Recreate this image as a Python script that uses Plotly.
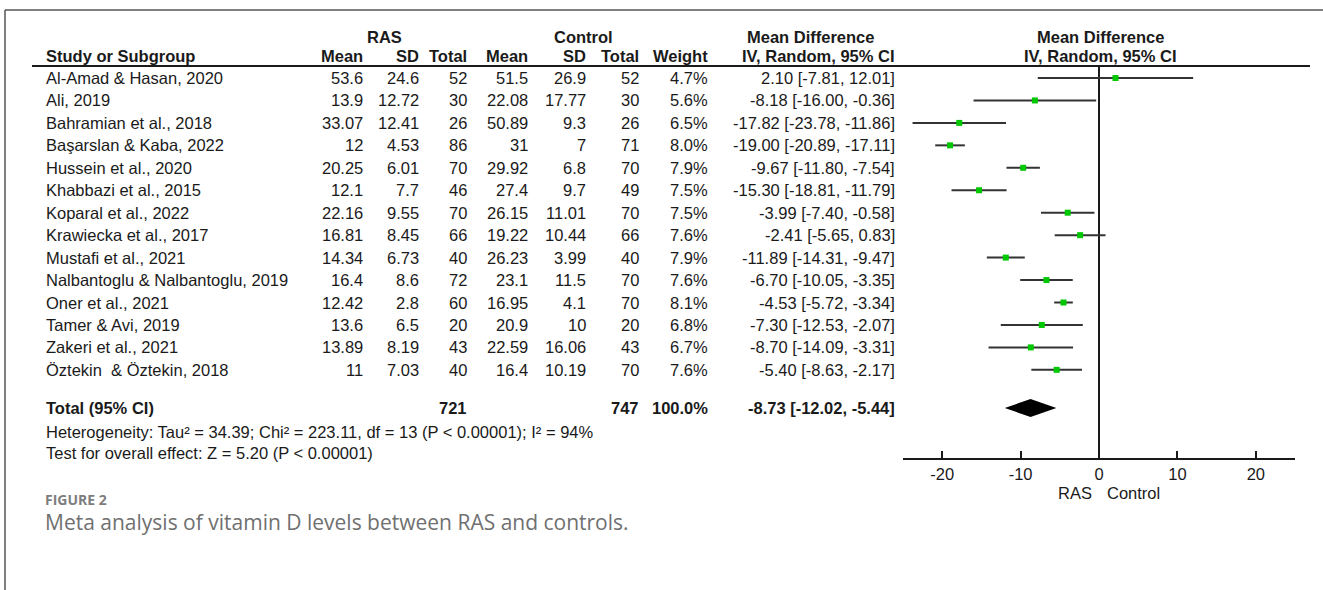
import plotly.graph_objects as go

# ---- study-level data -------------------------------------------------------
studies = [
    "Al-Amad & Hasan, 2020", "Ali, 2019", "Bahramian et al., 2018",
    "Başarslan & Kaba, 2022", "Hussein et al., 2020", "Khabbazi et al., 2015",
    "Koparal et al., 2022", "Krawiecka et al., 2017", "Mustafi et al., 2021",
    "Nalbantoglu & Nalbantoglu, 2019", "Oner et al., 2021", "Tamer & Avi, 2019",
    "Zakeri et al., 2021", "Öztekin  & Öztekin, 2018",
]
ras_mean = [53.6, 13.9, 33.07, 12, 20.25, 12.1, 22.16, 16.81, 14.34, 16.4, 12.42, 13.6, 13.89, 11]
ras_sd = [24.6, 12.72, 12.41, 4.53, 6.01, 7.7, 9.55, 8.45, 6.73, 8.6, 2.8, 6.5, 8.19, 7.03]
ras_n = [52, 30, 26, 86, 70, 46, 70, 66, 40, 72, 60, 20, 43, 40]
ctl_mean = [51.5, 22.08, 50.89, 31, 29.92, 27.4, 26.15, 19.22, 26.23, 23.1, 16.95, 20.9, 22.59, 16.4]
ctl_sd = [26.9, 17.77, 9.3, 7, 6.8, 9.7, 11.01, 10.44, 3.99, 11.5, 4.1, 10, 16.06, 10.19]
ctl_n = [52, 30, 26, 71, 70, 49, 70, 66, 40, 70, 70, 20, 43, 70]
weight = [4.7, 5.6, 6.5, 8.0, 7.9, 7.5, 7.5, 7.6, 7.9, 7.6, 8.1, 6.8, 6.7, 7.6]
md = [2.10, -8.18, -17.82, -19.00, -9.67, -15.30, -3.99, -2.41, -11.89, -6.70, -4.53, -7.30, -8.70, -5.40]
ci_lo = [-7.81, -16.00, -23.78, -20.89, -11.80, -18.81, -7.40, -5.65, -14.31, -10.05, -5.72, -12.53, -14.09, -8.63]
ci_hi = [12.01, -0.36, -11.86, -17.11, -7.54, -11.79, -0.58, 0.83, -9.47, -3.35, -3.34, -2.07, -3.31, -2.17]

# ---- pooled estimate ----------------------------------------------------------
total_ras_n = 721
total_ctl_n = 747
total_weight = 100.0
pooled_md = -8.73
pooled_lo = -12.02
pooled_hi = -5.44

heterogeneity = "Heterogeneity: Tau² = 34.39; Chi² = 223.11, df = 13 (P &lt; 0.00001); I² = 94%"
overall_test = "Test for overall effect: Z = 5.20 (P &lt; 0.00001)"

x_ticks = [-20, -10, 0, 10, 20]
x_tick_labels = ["-20", "-10", "0", "10", "20"]

# ---- page geometry (pixels) ---------------------------------------------------
W, H = 1323, 590
ROW_TOP, ROW_STEP = 78, 22.45
HDR1_Y, HDR2_Y, RULE_Y = 37, 56, 66
TOTAL_Y, HET_Y, TEST_Y = 408, 432, 453
AXIS_Y = 458
PLOT_X0, PLOT_X1 = 903, 1295
LABEL_X = 46
COL_RIGHT = [363, 419, 467, 528, 586, 639, 708, 895]

FONT = "Liberation Sans, Arial, sans-serif"
TXT = "#1a1a1a"
FS = 16.5


def px(x):
    return x / W


def py(y):
    return 1 - y / H


row_y = [ROW_TOP + i * ROW_STEP for i in range(len(studies))]

fig = go.Figure()

# confidence-interval whiskers
wx, wy = [], []
for lo, hi, y in zip(ci_lo, ci_hi, row_y):
    wx += [lo, hi, None]
    wy += [y, y, None]
fig.add_trace(go.Scatter(x=wx, y=wy, mode="lines",
                         line=dict(color="#333333", width=2),
                         hoverinfo="skip", showlegend=False))

# point estimates
fig.add_trace(go.Scatter(x=md, y=row_y, mode="markers",
                         marker=dict(symbol="square", size=6, color="#00c800",
                                     line=dict(width=0)),
                         showlegend=False))

# pooled diamond
half_h = 9
fig.add_trace(go.Scatter(
    x=[pooled_lo, pooled_md, pooled_hi, pooled_md, pooled_lo],
    y=[TOTAL_Y, TOTAL_Y - half_h, TOTAL_Y, TOTAL_Y + half_h, TOTAL_Y],
    mode="lines", fill="toself", fillcolor="#000000",
    line=dict(color="#000000", width=0), showlegend=False))

annotations = []


def add_text(text, x, y, anchor="right", bold=False, size=FS, color=TXT, family=FONT):
    if bold:
        text = f"<b>{text}</b>"
    annotations.append(dict(text=text, x=px(x), y=py(y), xref="paper", yref="paper",
                            xanchor=anchor, yanchor="middle", showarrow=False,
                            borderpad=0, borderwidth=0,
                            font=dict(family=family, size=size, color=color)))


def fmt(v):
    return f"{v:g}"


# header rows
add_text("RAS", 384, HDR1_Y, anchor="center", bold=True)
add_text("Control", 583, HDR1_Y, anchor="center", bold=True)
add_text("Mean Difference", 810, HDR1_Y, anchor="center", bold=True)
add_text("Mean Difference", 1100, HDR1_Y, anchor="center", bold=True)
add_text("IV, Random, 95% CI", 1100, HDR2_Y, anchor="center", bold=True)
add_text("Study or Subgroup", LABEL_X, HDR2_Y, anchor="left", bold=True)
for name, xr in zip(["Mean", "SD", "Total", "Mean", "SD", "Total", "Weight",
                     "IV, Random, 95% CI"], COL_RIGHT):
    add_text(name, xr, HDR2_Y, bold=True)

# study rows
for i, y in enumerate(row_y):
    add_text(studies[i], LABEL_X, y, anchor="left")
    cells = [fmt(ras_mean[i]), fmt(ras_sd[i]), str(ras_n[i]),
             fmt(ctl_mean[i]), fmt(ctl_sd[i]), str(ctl_n[i]),
             f"{weight[i]:.1f}%",
             f"{md[i]:.2f} [{ci_lo[i]:.2f}, {ci_hi[i]:.2f}]"]
    for c, xr in zip(cells, COL_RIGHT):
        add_text(c, xr, y)

# totals
add_text("Total (95% CI)", LABEL_X, TOTAL_Y, anchor="left", bold=True)
add_text(str(total_ras_n), COL_RIGHT[2], TOTAL_Y, bold=True)
add_text(str(total_ctl_n), COL_RIGHT[5], TOTAL_Y, bold=True)
add_text(f"{total_weight:.1f}%", COL_RIGHT[6], TOTAL_Y, bold=True)
add_text(f"{pooled_md:.2f} [{pooled_lo:.2f}, {pooled_hi:.2f}]", COL_RIGHT[7], TOTAL_Y, bold=True)
add_text(heterogeneity, LABEL_X, HET_Y, anchor="left")
add_text(overall_test, LABEL_X, TEST_Y, anchor="left")

# favours labels under the axis
add_text("RAS", 1092, 493, anchor="right")
add_text("Control", 1107, 493, anchor="left")

# figure caption
add_text("<b>FIGURE 2</b>", 45, 499, anchor="left", size=14, color="#7d7d7d",
         family="Open Sans, sans-serif")
add_text("Meta analysis of vitamin D levels between RAS and controls.", 45, 522,
         anchor="left", size=21, color="#707070", family="Open Sans, sans-serif")

shapes = [
    # frame
    dict(type="line", xref="paper", yref="paper", x0=px(5), x1=1, y0=py(10), y1=py(10),
         line=dict(color="#555555", width=1.5)),
    dict(type="line", xref="paper", yref="paper", x0=px(5), x1=px(5), y0=py(10), y1=0,
         line=dict(color="#555555", width=1.5)),
    # header rule
    dict(type="line", xref="paper", yref="paper", x0=px(32), x1=px(1310),
         y0=py(RULE_Y), y1=py(RULE_Y), line=dict(color="#1a1a1a", width=2)),
]

fig.update_layout(
    width=W, height=H, margin=dict(l=0, r=0, t=0, b=0),
    paper_bgcolor="white", plot_bgcolor="white",
    showlegend=False, annotations=annotations, shapes=shapes,
    xaxis=dict(domain=[px(PLOT_X0), px(PLOT_X1)], range=[-25, 25],
               tickvals=x_ticks, ticktext=x_tick_labels,
               ticks="inside", ticklen=7, tickwidth=1.5,
               tickcolor="#1a1a1a", showline=True, linecolor="#1a1a1a", linewidth=1.5,
               zeroline=True, zerolinecolor="#1a1a1a", zerolinewidth=1.5,
               showgrid=False, tickfont=dict(family=FONT, size=FS, color=TXT),
               fixedrange=True),
    yaxis=dict(domain=[py(AXIS_Y), py(RULE_Y)], range=[AXIS_Y, RULE_Y],
               visible=False, showgrid=False, zeroline=False, fixedrange=True),
)

fig.write_html("out.html")
